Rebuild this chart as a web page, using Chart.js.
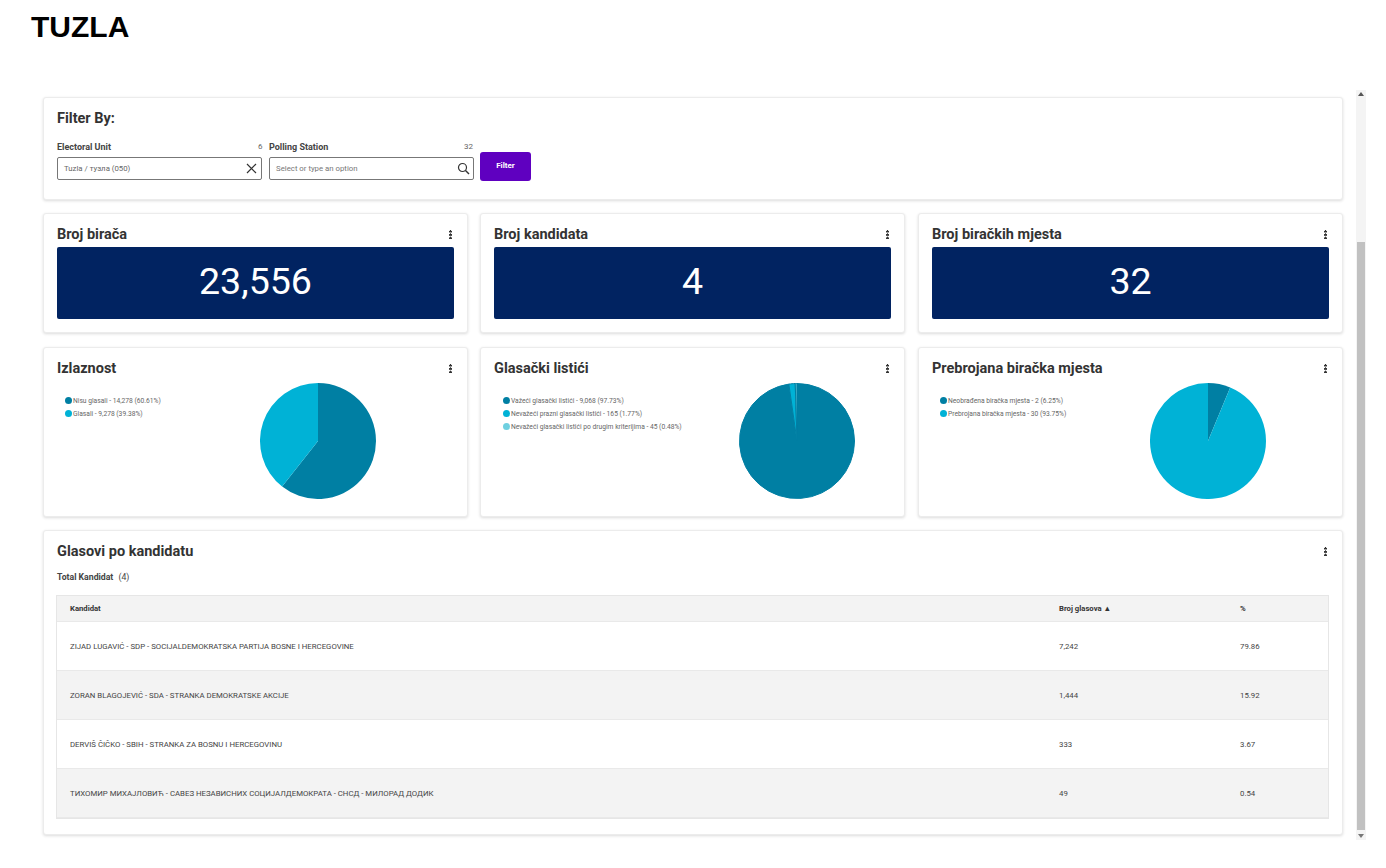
<!DOCTYPE html>
<html>
<head>
<meta charset="utf-8">
<title>TUZLA</title>
<script src="https://cdn.jsdelivr.net/npm/chart.js@4"></script>
<style>
  html, body { margin: 0; background: #fff; overflow: hidden; }
  body { width: 1386px; height: 868px; position: relative; font-family: Roboto, sans-serif; color: #333; }
  .abs { position: absolute; white-space: nowrap; }
  h1 { position: absolute; left: 31px; top: 10px; margin: 0; font: bold 30px "Liberation Sans", sans-serif; color: #000; }
  .card { position: absolute; background: #fff; border: 1px solid #ececec; border-radius: 3px; box-shadow: 0 1px 3px rgba(0,0,0,.14); box-sizing: border-box; }
  .title { position: absolute; font-size: 14.5px; font-weight: 700; color: #333; white-space: nowrap; line-height: 18px; }
  .dots { position: absolute; width: 3px; height: 9px; background: radial-gradient(circle at 1.5px 1.5px, #333 1.2px, transparent 1.3px) 0 0 / 3px 3.3px; }
  .kpi { position: absolute; background: #012361; color: #fff; font-size: 37.6px; text-align: center; border-radius: 2px; }
  .field { position: absolute; border: 1px solid #777; border-radius: 2px; box-sizing: border-box; background: #fff; font-size: 7.8px; color: #666; line-height: 21px; padding-left: 6px; height: 23px; top: 157px; }
  .lab { font-size: 9px; font-weight: 700; color: #444; }
  .cnt { font-size: 8px; color: #666; }
  .legend { position: absolute; font-size: 6.7px; color: #666; }
  .legend div { position: relative; height: 13px; line-height: 13px; padding-left: 8px; white-space: nowrap; }
  .legend i { position: absolute; left: 0; top: 2px; width: 7px; height: 7px; border-radius: 50%; }
  .pie { position: absolute; width: 116px; height: 116px; }
  table { position: absolute; left: 57px; top: 596px; width: 1271px; border-collapse: collapse; table-layout: fixed; font-size: 7.8px; color: #444; outline: 1px solid #e6e6e6; }
  td, th { padding: 0 0 0 13px; text-align: left; }
  th { height: 25px; background: #f3f3f3; font-weight: 700; font-size: 7.7px; color: #333; }
  td { height: 48px; }
  tr { border-bottom: 1px solid #e9e9e9; }
  tbody tr:nth-child(even) { background: #f3f3f3; }
  .track { position: absolute; left: 1356px; top: 90px; width: 10px; height: 750px; background: #f4f4f4; }
  .thumb { position: absolute; left: 1357px; top: 242px; width: 8px; height: 588px; background: #c1c1c1; }
  .arrow { position: absolute; left: 1358px; width: 0; height: 0; border-left: 3px solid transparent; border-right: 3px solid transparent; }
</style>
</head>
<body>
<h1>TUZLA</h1>

<div class="card" style="left:43px;top:97px;width:1300px;height:103px"></div>
<div class="title" style="left:57px;top:110px">Filter By:</div>
<div class="abs lab" style="left:57px;top:142px">Electoral Unit</div>
<div class="abs cnt" style="left:258px;top:142px">6</div>
<div class="abs lab" style="left:269px;top:142px">Polling Station</div>
<div class="abs cnt" style="left:464px;top:142px">32</div>
<div class="field" style="left:57px;width:205px">Tuzla / тузла (050)</div>
<div class="field" style="left:269px;width:205px;color:#777">Select or type an option</div>
<svg class="abs" style="left:246px;top:163px" width="11" height="11"><path d="M1 1L10 10M10 1L1 10" stroke="#333" stroke-width="1.2"/></svg>
<svg class="abs" style="left:457px;top:162px" width="13" height="13"><circle cx="5.5" cy="5.5" r="4" fill="none" stroke="#333" stroke-width="1.2"/><path d="M8.5 8.5L12 12" stroke="#333" stroke-width="1.4"/></svg>
<div class="abs" style="left:480px;top:152px;width:51px;height:29px;background:#5f00c0;border-radius:3px;color:#fff;font-size:8px;font-weight:700;text-align:center;line-height:27px">Filter</div>

<div id="kpis"></div>
<div id="pies"></div>

<div class="card" style="left:43px;top:530px;width:1300px;height:305px"></div>
<div class="title" style="left:57px;top:543px">Glasovi po kandidatu</div>
<div class="abs" style="left:57px;top:572px;font-size:8.7px;font-weight:700;color:#444">Total Kandidat <span style="font-weight:400;margin-left:3px">(4)</span></div>
<div class="dots" style="left:1324px;top:547px"></div>
<table id="tbl">
  <colgroup><col style="width:989px"><col style="width:181px"><col></colgroup>
  <thead><tr><th>Kandidat</th><th>Broj glasova ▲</th><th>%</th></tr></thead>
  <tbody></tbody>
</table>

<div class="track"></div>
<div class="thumb"></div>
<div class="arrow" style="top:92px;border-bottom:4px solid #555"></div>
<div class="arrow" style="top:834px;border-top:4px solid #777"></div>

<script>
const kpiTitles = ['Broj birača', 'Broj kandidata', 'Broj biračkih mjesta'];
const kpiValues = ['23,556', '4', '32'];

const turnoutLabels = ['Nisu glasali', 'Glasali'];
const turnoutValues = [14278, 9278];
const turnoutPct = ['60.61', '39.38'];

const ballotLabels = ['Važeći glasački listići', 'Nevažeći prazni glasački listići', 'Nevažeći glasački listići po drugim kriterijima'];
const ballotValues = [9068, 165, 45];
const ballotPct = ['97.73', '1.77', '0.48'];

const stationLabels = ['Neobrađena biračka mjesta', 'Prebrojana biračka mjesta'];
const stationValues = [2, 30];
const stationPct = ['6.25', '93.75'];

const candidates = [
  'ZIJAD LUGAVIĆ - SDP - SOCIJALDEMOKRATSKA PARTIJA BOSNE I HERCEGOVINE',
  'ZORAN BLAGOJEVIĆ - SDA - STRANKA DEMOKRATSKE AKCIJE',
  'DERVIŠ ČIČKO - SBIH - STRANKA ZA BOSNU I HERCEGOVINU',
  'ТИХОМИР МИХАЈЛОВИЋ - САВЕЗ НЕЗАВИСНИХ СОЦИЈАЛДЕМОКРАТА - СНСД - МИЛОРАД ДОДИК'
];
const candidateVotes = [7242, 1444, 333, 49];
const candidatePct = ['79.86', '15.92', '3.67', '0.54'];

const colors = ['#007fa3', '#00b2d6', '#6fd0e0'];

function add(parent, html) {
  parent.insertAdjacentHTML('beforeend', html);
}

// top row of number cards
const kpis = document.getElementById('kpis');
const cardX = [43, 480, 918];
const cardW = [425, 425, 425];
kpiTitles.forEach((t, i) => {
  const x = cardX[i];
  add(kpis, `<div class="card" style="left:${x}px;top:213px;width:${cardW[i]}px;height:120px"></div>
    <div class="title" style="left:${x + 14}px;top:226px">${t}</div>
    <div class="dots" style="left:${x + cardW[i] - 19}px;top:230px"></div>
    <div class="kpi" style="left:${x + 14}px;top:247px;width:397px;height:72px;line-height:68px">${kpiValues[i]}</div>`);
});

// pie cards
const pies = [
  { title: 'Izlaznost', labels: turnoutLabels, values: turnoutValues, pct: turnoutPct, cx: 318, legendX: 65, border: 0 },
  { title: 'Glasački listići', labels: ballotLabels, values: ballotValues, pct: ballotPct, cx: 797, legendX: 503, border: 1 },
  { title: 'Prebrojana biračka mjesta', labels: stationLabels, values: stationValues, pct: stationPct, cx: 1208, legendX: 940, border: 0 }
];
const piesEl = document.getElementById('pies');
pies.forEach((p, i) => {
  const x = cardX[i];
  const rows = p.labels.map((l, j) =>
    `<div><i style="background:${colors[j]}"></i>${l} - ${p.values[j].toLocaleString('en-US')} (${p.pct[j]}%)</div>`).join('');
  add(piesEl, `<div class="card" style="left:${x}px;top:347px;width:${cardW[i]}px;height:170px"></div>
    <div class="title" style="left:${x + 14}px;top:360px">${p.title}</div>
    <div class="dots" style="left:${x + cardW[i] - 19}px;top:364px"></div>
    <div class="legend" style="left:${p.legendX}px;top:395px">${rows}</div>
    <div class="pie" style="left:${p.cx - 58}px;top:383px"><canvas id="pie${i}"></canvas></div>`);
  new Chart(document.getElementById('pie' + i), {
    type: 'pie',
    data: {
      labels: p.labels,
      datasets: [{ data: p.values, backgroundColor: colors, borderColor: colors[0], borderWidth: p.border }]
    },
    options: {
      responsive: true,
      maintainAspectRatio: false,
      animation: false,
      plugins: { legend: { display: false }, tooltip: { enabled: false } }
    }
  });
});

// candidates table
const tbody = document.querySelector('#tbl tbody');
candidates.forEach((c, i) => {
  add(tbody, `<tr><td>${c}</td><td>${candidateVotes[i].toLocaleString('en-US')}</td><td>${candidatePct[i]}</td></tr>`);
});
</script>
</body>
</html>
